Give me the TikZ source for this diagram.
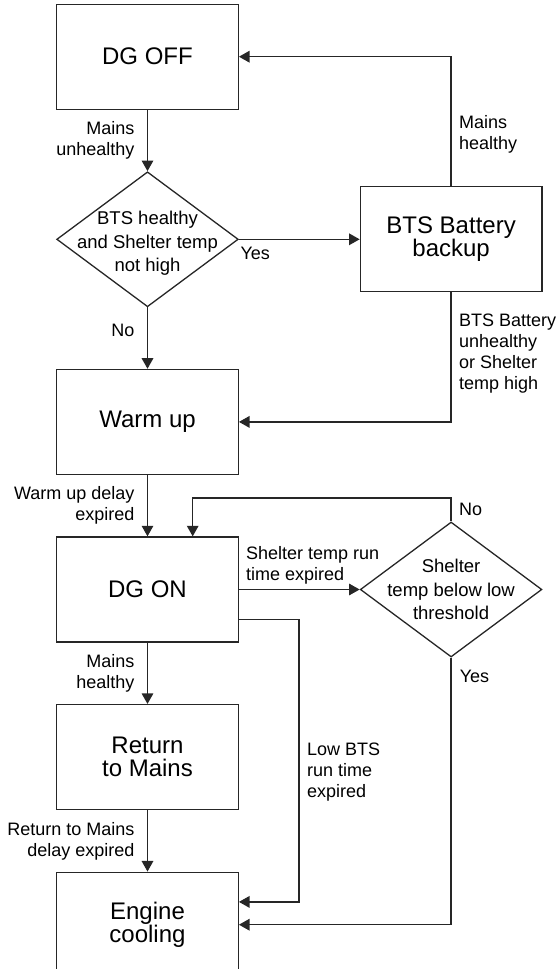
\documentclass[tikz,border=0pt]{standalone}
\usepackage{fontspec}
\setmainfont{Liberation Sans}
\usetikzlibrary{arrows.meta,positioning,shapes.geometric}

\begin{document}
\begin{tikzpicture}[
        >={Triangle[length=5.3pt,width=5.8pt]},
        line width=0.65pt,
        node distance=30.65pt and 60.35pt,
        state/.style={
            draw=black!85,
            align=center,
            minimum width=90.8pt,
            minimum height=52.5pt,
            font=\fontsize{12pt}{11.25pt}\selectfont
        },
        decision/.style={
            draw=black!85,
            diamond,
            inner sep=0pt,
            minimum width=90.8pt,
            minimum height=67.5pt
        },
        cond/.style={
            align=center,
            font=\fontsize{9.25pt}{11.9pt}\selectfont
        },
        lbl/.style={
            inner sep=0pt,
            font=\fontsize{9pt}{10.5pt}\selectfont
        },
        flow/.style={->, draw=black!85}
    ]
        \useasboundingbox (-73.75pt,28.35pt) rectangle (205.75pt,-456.15pt);

        % states and checks
        \node[state] (off) at (0,0) {DG OFF};
        \node[decision, below=of off] (chk) {};
        \node[cond, yshift=-2pt] (chktxt) at (chk) {BTS healthy\\and Shelter temp\\not high};
        \node[state, right=of chk] (batt) {BTS Battery\\backup};
        \node[state, below=of chk] (warm) {Warm up};
        \node[state, below=of warm] (on) {DG ON};
        \node[decision, right=of on] (shelt) {};
        \node[cond] (shelttxt) at (shelt) {Shelter\\temp below low\\threshold};
        \node[state, below=of on] (ret) {Return\\to Mains};
        \node[state, below=of ret] (cool) {Engine\\cooling};

        % main column
        \draw[flow] (off) -- node[lbl, left=6.2pt, align=right] {Mains\\unhealthy} (chk);
        \draw[flow] (chk) -- node[lbl, left=6.2pt, pos=0.38] {No} (warm);
        \draw[flow] (warm) -- node[lbl, left=6.2pt, align=right] {Warm up delay\\expired} (on);
        \draw[flow] (on) -- node[lbl, left=6.2pt, align=right] {Mains\\healthy} (ret);
        \draw[flow] (ret) -- node[lbl, left=6.2pt, align=right] {Return to Mains\\delay expired} (cool);

        % battery branch
        \draw[flow] (chk) -- node[lbl, pos=0, anchor=north west, shift={(0.5pt,-3.8pt)}] {Yes} (batt);
        \draw[flow] (batt.north) |- node[lbl, right=3.7pt, pos=0.2, align=left] {Mains\\healthy} (off.east);
        \draw[flow] (batt.south) |- node[lbl, right=3.7pt, pos=0.235, align=left] {BTS Battery\\unhealthy\\or Shelter\\temp high} (warm.east);

        % shelter temp and low BTS
        \draw[flow] (on) -- node[lbl, pos=0, anchor=south west, shift={(3.3pt,2.5pt)}, align=left] {Shelter temp run\\time expired} (shelt);
        \draw[flow] (shelt.north) -- node[lbl, right=3.7pt] {No} ++(0,11.65pt) -| ([xshift=22.6pt]on.north);
        \draw[flow] (shelt.south) |- node[lbl, pos=0, anchor=north west, shift={(4pt,-5.8pt)}] {Yes} (cool.east);
        \draw[flow] ([yshift=-15pt]on.east) -- ++(30pt,0) |- node[lbl, right=3.8pt, pos=0.27, align=left] {Low BTS\\run time\\expired} ([yshift=11.4pt]cool.east);
    \end{tikzpicture}
\end{document}
